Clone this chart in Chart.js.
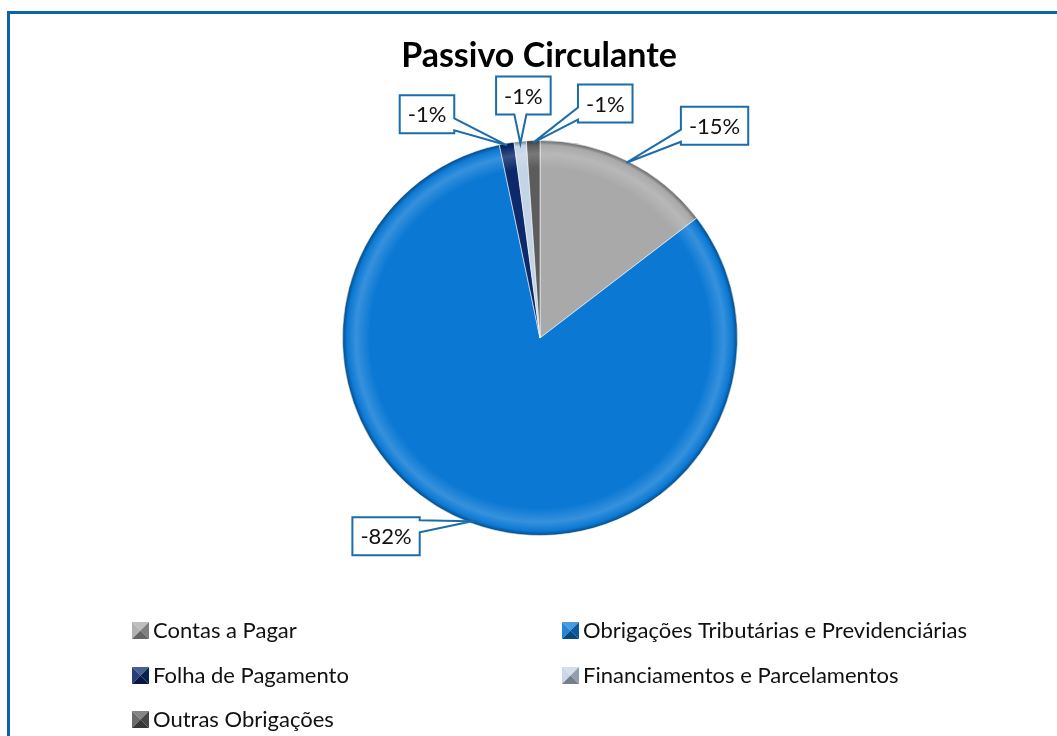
<!DOCTYPE html>
<html><head><meta charset="utf-8">
<script src="https://cdn.jsdelivr.net/npm/chart.js@4/dist/chart.umd.min.js"></script>
<style>html,body{margin:0;padding:0;background:#fff;overflow:hidden}#wrap{width:1057px;height:736px;position:relative}</style>
</head><body><div id="wrap"><canvas id="c" width="1057" height="736"></canvas></div>
<script>
const categories = ['Contas a Pagar','Obrigações Tributárias e Previdenciárias','Folha de Pagamento','Financiamentos e Parcelamentos','Outras Obrigações'];
const shares = [-14.6, -82.1, -1.2, -1.0, -1.1];
const sliceColors = ['#a9a9a9','#0b79d4','#0c2a6a','#c3d4e6','#5c5c5c'];
const chartTitle = 'Passivo Circulante';
// label box centre offsets relative to each slice's outer anchor (layout only)
const labelOffsets = [[88,-37],[-86,15],[-80,-31],[3,-48],[72,-39]];

const FONT = 'Lato, "Open Sans", sans-serif';
const FRAME = '#0d65a8';

function hexToRgb(h){h=h.replace('#','');return [parseInt(h.substr(0,2),16),parseInt(h.substr(2,2),16),parseInt(h.substr(4,2),16)];}
function shade(hex,t){const c=hexToRgb(hex);const r=c.map(v=>t>=0?Math.round(v+(255-v)*t):Math.round(v*(1+t)));return 'rgb('+r.join(',')+')';}

function callout(ctx, cx, cy, w, h, ax, ay){
  const x0=cx-w/2, x1=cx+w/2, y0=cy-h/2, y1=cy+h/2, bw=12;
  const dx=(ax-cx)/(w/2), dy=(ay-cy)/(h/2);
  let edge;
  if (Math.abs(dx)>Math.abs(dy)) edge = dx>0?'right':'left'; else edge = dy>0?'bottom':'top';
  const clamp=(v,a,b)=>Math.max(a,Math.min(b,v));
  ctx.beginPath();
  ctx.moveTo(x0,y0);
  if(edge==='top'){const xc=clamp(ax,x0+bw/2+3,x1-bw/2-3);ctx.lineTo(xc-bw/2,y0);ctx.lineTo(ax,ay);ctx.lineTo(xc+bw/2,y0);}
  ctx.lineTo(x1,y0);
  if(edge==='right'){const yc=clamp(ay,y0+bw/2+3,y1-bw/2-3);ctx.lineTo(x1,yc-bw/2);ctx.lineTo(ax,ay);ctx.lineTo(x1,yc+bw/2);}
  ctx.lineTo(x1,y1);
  if(edge==='bottom'){const xc=clamp(ax,x0+bw/2+3,x1-bw/2-3);ctx.lineTo(xc+bw/2,y1);ctx.lineTo(ax,ay);ctx.lineTo(xc-bw/2,y1);}
  ctx.lineTo(x0,y1);
  if(edge==='left'){const yc=clamp(ay,y0+bw/2+3,y1-bw/2-3);ctx.lineTo(x0,yc+bw/2);ctx.lineTo(ax,ay);ctx.lineTo(x0,yc-bw/2);}
  ctx.closePath();
  ctx.fillStyle='#fff'; ctx.fill();
  ctx.lineWidth=2; ctx.strokeStyle='#1a6cab'; ctx.lineJoin='miter'; ctx.stroke();
}

function pyramid(ctx,x,y,s,base){
  const cx=x+s/2, cy=y+s/2;
  const tri=(p,col)=>{ctx.beginPath();ctx.moveTo(p[0][0],p[0][1]);ctx.lineTo(p[1][0],p[1][1]);ctx.lineTo(cx,cy);ctx.closePath();ctx.fillStyle=col;ctx.fill();};
  tri([[x,y],[x+s,y]], shade(base,0.25));
  tri([[x,y],[x,y+s]], shade(base,0.1));
  tri([[x+s,y],[x+s,y+s]], shade(base,-0.25));
  tri([[x,y+s],[x+s,y+s]], shade(base,-0.4));
}

const decor = {
  id:'decor',
  beforeDraw(chart){
    const ctx=chart.ctx; ctx.save();
    ctx.fillStyle='#fff'; ctx.fillRect(0,0,chart.width,chart.height);
    ctx.lineWidth=3; ctx.strokeStyle=FRAME; ctx.strokeRect(8.5,12.5,1200,1000);
    ctx.fillStyle='#000'; ctx.font='bold 34px '+FONT; ctx.textAlign='center'; ctx.textBaseline='middle';
    ctx.fillText(chartTitle,539,56);
    ctx.restore();
  },
  afterDatasetsDraw(chart){
    const ctx=chart.ctx; ctx.save();
    const meta=chart.getDatasetMeta(0);
    ctx.font='22px '+FONT;
    meta.data.forEach((arc,i)=>{
      const mid=(arc.startAngle+arc.endAngle)/2, R=arc.outerRadius-2;
      const ax=arc.x+Math.cos(mid)*R, ay=arc.y+Math.sin(mid)*R;
      const bx=ax+labelOffsets[i][0], by=ay+labelOffsets[i][1];
      const txt=Math.round(shares[i])+'%';
      const w=ctx.measureText(txt).width+16, h=38;
      callout(ctx,bx,by,w,h,ax,ay);
      ctx.fillStyle='#111'; ctx.textAlign='center'; ctx.textBaseline='middle';
      ctx.fillText(txt,bx,by+1);
    });
    // legend
    const colX=[132,562], rowY=[630,675,719];
    categories.forEach((name,i)=>{
      const x=colX[i%2], y=rowY[Math.floor(i/2)];
      pyramid(ctx,x,y-8,17,sliceColors[i]);
      ctx.fillStyle='#111'; ctx.textAlign='left'; ctx.textBaseline='middle';
      ctx.fillText(name,x+21,y+1);
    });
    ctx.restore();
  }
};

new Chart(document.getElementById('c'),{
  type:'pie',
  data:{labels:categories,datasets:[{data:shares,
    backgroundColor:(c)=>{
      const ch=c.chart, a=ch.chartArea, base=sliceColors[c.dataIndex];
      if(!a) return base;
      const cx=(a.left+a.right)/2, cy=(a.top+a.bottom)/2, r=Math.min(a.width,a.height)/2;
      const g=ch.ctx.createRadialGradient(cx,cy,0,cx,cy,r);
      g.addColorStop(0,base); g.addColorStop(0.86,base);
      g.addColorStop(0.93,shade(base,0.18)); g.addColorStop(0.975,base); g.addColorStop(1,shade(base,-0.45));
      return g;
    },
    borderColor:'rgba(255,255,255,0.55)', borderWidth:1}]},
  options:{responsive:false,animation:false,
    layout:{padding:{left:23,right:0,top:140,bottom:200}},
    plugins:{legend:{display:false},tooltip:{enabled:false},title:{display:false}}},
  plugins:[decor]
});
</script></body></html>
